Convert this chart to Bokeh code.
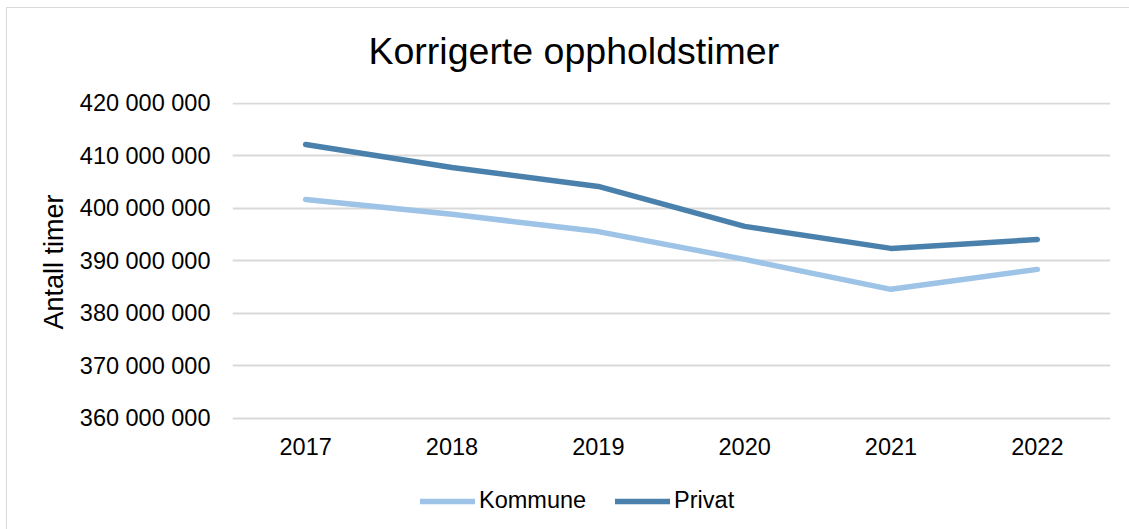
from bokeh.plotting import figure
from bokeh.models import Range1d, FactorRange, FixedTicker, Legend, LegendItem, ColumnDataSource, Title
from bokeh.embed import file_html
from bokeh.resources import INLINE

years = ["2017", "2018", "2019", "2020", "2021", "2022"]
kommune = [401.7e6, 398.9e6, 395.6e6, 390.3e6, 384.6e6, 388.4e6]
privat = [412.2e6, 407.8e6, 404.2e6, 396.6e6, 392.4e6, 394.1e6]
y_ticks = [360e6, 370e6, 380e6, 390e6, 400e6, 410e6, 420e6]
y_tick_labels = ["360 000 000", "370 000 000", "380 000 000", "390 000 000",
                 "400 000 000", "410 000 000", "420 000 000"]
y_min, y_max = 338.857e6, 420.19e6  # view range: 360M..420M axis plus room for legend

FONT = "Liberation Sans"
C_KOM = "#9DC3E6"
C_PRI = "#4A81AC"

p = figure(width=1129, height=529, x_range=FactorRange(*years),
           y_range=Range1d(y_min, y_max), output_backend="svg",
           toolbar_location=None, min_border_left=232, min_border_right=19,
           min_border_top=102, min_border_bottom=0)
p.styles = {
    "background": "linear-gradient(#D9D9D9,#D9D9D9) 6px 7px / 1px 100% no-repeat, "
                  "linear-gradient(#D9D9D9,#D9D9D9) 6px 7px / 100% 1px no-repeat, white"
}
p.outline_line_color = None
p.background_fill_color = "white"
p.border_fill_alpha = 0

src = ColumnDataSource(dict(x=years, k=kommune, pr=privat))
r1 = p.line("x", "k", source=src, line_color=C_KOM, line_width=5.5, line_cap="round", line_join="round")
r2 = p.line("x", "pr", source=src, line_color=C_PRI, line_width=5.5, line_cap="round", line_join="round")

p.title.text = "Korrigerte oppholdstimer"
p.title.text_font = FONT
p.title.text_font_size = "37.5px"
p.title.text_font_style = "normal"
p.title.align = "left"
p.title.vertical_align = "top"
p.title.offset = 136
p.title.standoff = 58
p.title.text_color = "black"

p.yaxis.ticker = FixedTicker(ticks=y_ticks)
p.yaxis.major_label_overrides = {t: l for t, l in zip(y_ticks, y_tick_labels)}
p.yaxis.major_label_standoff = 16

ylab = Title(text="Antall timer", align="left", offset=200, standoff=16,
             text_font=FONT, text_font_size="27px", text_font_style="normal",
             text_color="black")
p.add_layout(ylab, "left")

p.xaxis.fixed_location = y_ticks[0]

for ax in (p.xaxis[0], p.yaxis[0]):
    ax.axis_line_color = None
    ax.major_tick_line_color = None
    ax.minor_tick_line_color = None
    ax.major_label_text_font = FONT
    ax.major_label_text_font_size = "23.5px"
    ax.major_label_text_color = "black"
p.xaxis.major_label_standoff = 14

p.xgrid.grid_line_color = None
p.ygrid.grid_line_color = "#D9D9D9"
p.ygrid.grid_line_width = 2

legend = Legend(items=[LegendItem(label="Kommune", renderers=[r1]),
                       LegendItem(label="Privat", renderers=[r2])],
                orientation="horizontal", location=(188, 15),
                glyph_width=55, glyph_height=24, label_standoff=4, spacing=29,
                padding=0, margin=0, border_line_color=None,
                background_fill_alpha=0,
                label_text_font=FONT, label_text_font_size="23.5px",
                label_text_color="black")
p.add_layout(legend, "center")

open("out.html", "w").write(file_html(p, INLINE))
